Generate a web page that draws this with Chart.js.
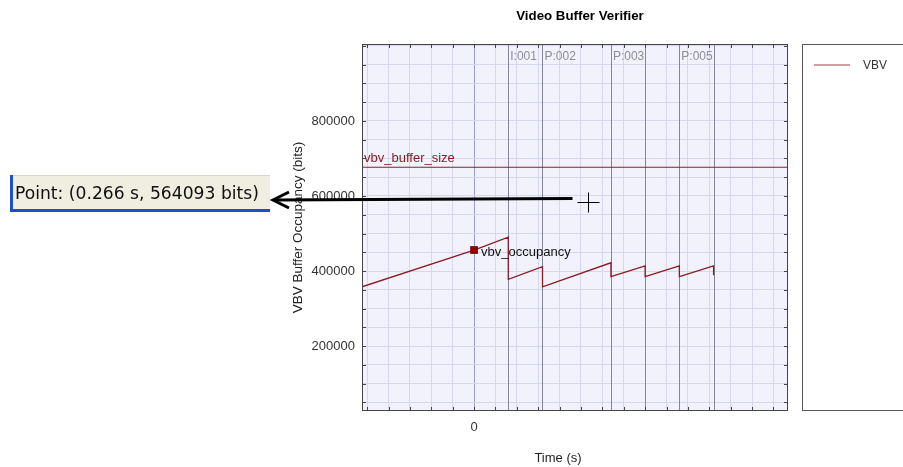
<!DOCTYPE html>
<html><head><meta charset="utf-8">
<script src="https://cdn.jsdelivr.net/npm/chart.js@4/dist/chart.umd.min.js"></script>
<style>html,body{margin:0;padding:0;background:#fff;overflow:hidden}canvas{display:block}</style>
</head><body>
<canvas id="c" width="903" height="467"></canvas>
<script>
// ---- data ----
const chartTitle = 'Video Buffer Verifier';
const xAxisTitle = 'Time (s)';
const yAxisTitle = 'VBV Buffer Occupancy (bits)';
const seriesName = 'VBV';
const xRange = [-0.131, 0.367];
const yRange = [27000, 1005000];
const xTickLabels = [0];
const yTickLabels = [200000, 400000, 600000, 800000];
const xGridStep = 0.025;
const yGridStep = 50000;
const occTimes = [-0.131, 0, 0.04, 0.04, 0.08, 0.08, 0.16, 0.16, 0.20, 0.20, 0.24, 0.24, 0.28, 0.28];
const occBits  = [358000, 456000, 490000, 378000, 411500, 358000, 422000, 385000, 414000, 385000, 414000, 385000, 414000, 389000];
const bufferSizeBits = 676500;
const bufferLabel = 'vbv_buffer_size';
const occLabel = 'vbv_occupancy';
const markerTime = 0;
const frameTimes = [0.04, 0.08, 0.16, 0.20, 0.24, 0.28];
const frameLabels = ['I:001', 'P:002', 'P:003', '', 'P:005', ''];
const cursorTime = 0.133;
const cursorBits = 584000;
const pointReadout = 'Point: (0.266 s, 564093 bits)';

// ---- styles ----
const RED = '#8b1c24';
const FONT = '"Liberation Sans", Arial, sans-serif';
Chart.defaults.font.family = FONT;
Chart.defaults.font.size = 13;
Chart.defaults.color = '#333';

const occData = occTimes.map((t, i) => ({x: t, y: occBits[i]}));
const markerIndex = occTimes.indexOf(markerTime);

function gridTicks(lo, hi, step) {
  const out = [];
  for (let k = Math.ceil(lo / step - 1e-9); k * step <= hi + 1e-9; k++) {
    out.push({value: Math.round(k * step * 1e6) / 1e6});
  }
  return out;
}
const near = (a, b) => Math.abs(a - b) < 1e-6 * Math.max(1, Math.abs(b));

const deco = {
  id: 'deco',
  beforeDraw(chart) {
    const {ctx, chartArea: a} = chart;
    ctx.save();
    ctx.fillStyle = '#fff';
    ctx.fillRect(0, 0, chart.width, chart.height);
    ctx.fillStyle = '#f2f2fc';
    ctx.fillRect(a.left, a.top, a.right - a.left, a.bottom - a.top);
    ctx.restore();
  },
  beforeDatasetsDraw(chart) {
    const {ctx, chartArea: a, scales: {x}} = chart;
    ctx.save();
    ctx.strokeStyle = '#85859a';
    ctx.lineWidth = 1;
    frameTimes.forEach(t => {
      const px = Math.round(x.getPixelForValue(t)) + 0.5;
      ctx.beginPath(); ctx.moveTo(px, a.top); ctx.lineTo(px, a.bottom); ctx.stroke();
    });
    ctx.fillStyle = '#8c8c9e';
    ctx.font = '12px ' + FONT;
    ctx.textBaseline = 'middle';
    frameLabels.forEach((l, i) => {
      if (!l) return;
      ctx.fillText(l, x.getPixelForValue(frameTimes[i]) + 2, a.top + 13);
    });
    ctx.restore();
  },
  afterDraw(chart) {
    const {ctx, chartArea: a, scales: {x, y}} = chart;
    ctx.save();
    // border
    ctx.strokeStyle = '#444';
    ctx.lineWidth = 1;
    ctx.strokeRect(Math.round(a.left) + 0.5, Math.round(a.top) + 0.5, Math.round(a.right - a.left) - 1, Math.round(a.bottom - a.top) - 1);
    // inner tick marks
    ctx.beginPath();
    y.ticks.forEach(t => {
      const py = Math.round(y.getPixelForValue(t.value)) + 0.5;
      ctx.moveTo(a.left, py); ctx.lineTo(a.left + 4, py);
      ctx.moveTo(a.right - 4, py); ctx.lineTo(a.right, py);
    });
    x.ticks.forEach(t => {
      const px = Math.round(x.getPixelForValue(t.value)) + 0.5;
      ctx.moveTo(px, a.top); ctx.lineTo(px, a.top + 4);
      ctx.moveTo(px, a.bottom - 4); ctx.lineTo(px, a.bottom);
    });
    ctx.stroke();
    // annotation labels
    ctx.font = '13px ' + FONT;
    ctx.textBaseline = 'middle';
    ctx.fillStyle = RED;
    ctx.fillText(bufferLabel, x.getPixelForValue(xRange[0]) + 2, y.getPixelForValue(bufferSizeBits) - 9);
    ctx.fillStyle = '#111';
    ctx.fillText(occLabel, x.getPixelForValue(markerTime) + 7, y.getPixelForValue(occBits[markerIndex]) + 2);
    // chart title
    ctx.font = 'bold 13.3px ' + FONT;
    ctx.textAlign = 'center';
    ctx.fillStyle = '#000';
    ctx.fillText(chartTitle, 580, 16);
    // x axis title
    ctx.font = '13px ' + FONT;
    ctx.fillStyle = '#222';
    ctx.fillText(xAxisTitle, 558, 458);
    ctx.textAlign = 'left';
    // legend box
    const lx = a.right + 14;
    ctx.fillStyle = '#fff';
    ctx.fillRect(lx, a.top, chart.width - lx + 5, a.bottom - a.top);
    ctx.strokeStyle = '#555';
    ctx.strokeRect(Math.round(lx) + 0.5, Math.round(a.top) + 0.5, chart.width - lx + 5, Math.round(a.bottom - a.top) - 1);
    ctx.strokeStyle = '#9a3c44';
    ctx.beginPath(); ctx.moveTo(lx + 12, a.top + 21); ctx.lineTo(lx + 48, a.top + 21); ctx.stroke();
    ctx.fillStyle = '#333';
    ctx.font = '12px ' + FONT;
    ctx.fillText(seriesName, lx + 61, a.top + 22);
    // cursor cross
    const cx = Math.round(x.getPixelForValue(cursorTime)) + 0.5;
    const cy = Math.round(y.getPixelForValue(cursorBits)) + 0.5;
    ctx.strokeStyle = '#000';
    ctx.lineWidth = 1;
    ctx.beginPath();
    ctx.moveTo(cx - 11, cy); ctx.lineTo(cx + 11, cy);
    ctx.moveTo(cx, cy - 10); ctx.lineTo(cx, cy + 10);
    ctx.stroke();
    // readout box
    const bx = 10, by = 175, bw = 260, bh = 37;
    ctx.fillStyle = '#efeee0';
    ctx.fillRect(bx, by, bw, bh);
    ctx.fillStyle = '#d8d6c4';
    ctx.fillRect(bx, by, bw, 1);
    ctx.fillStyle = '#1f4fc4';
    ctx.fillRect(bx, by, 3, bh);
    ctx.fillRect(bx, by + bh - 3, bw, 3);
    ctx.fillStyle = '#111';
    let fs = 17;
    ctx.font = fs + 'px "DejaVu Sans", sans-serif';
    const w = ctx.measureText(pointReadout).width;
    fs = fs * 244 / w;
    ctx.font = fs.toFixed(2) + 'px "DejaVu Sans", sans-serif';
    ctx.textBaseline = 'alphabetic';
    ctx.fillText(pointReadout, bx + 5, by + 24);
    // arrow
    const tipX = bx + bw + 2, tipY = by + 25;
    ctx.strokeStyle = '#000';
    ctx.lineWidth = 3;
    ctx.beginPath();
    ctx.moveTo(cx - 16, cy - 4);
    ctx.lineTo(tipX + 2, tipY);
    ctx.stroke();
    ctx.beginPath();
    ctx.moveTo(tipX + 17, tipY - 8);
    ctx.lineTo(tipX + 1, tipY);
    ctx.lineTo(tipX + 17, tipY + 8);
    ctx.stroke();
    ctx.restore();
  }
};

new Chart(document.getElementById('c'), {
  type: 'scatter',
  data: {
    datasets: [
      {
        label: bufferLabel,
        data: [{x: xRange[0], y: bufferSizeBits}, {x: xRange[1], y: bufferSizeBits}],
        showLine: true,
        borderColor: RED,
        borderWidth: 1.2,
        pointRadius: 0,
        clip: 0
      },
      {
        label: seriesName,
        data: occData,
        showLine: true,
        borderColor: RED,
        borderWidth: 1.3,
        backgroundColor: '#8b0000',
        pointStyle: 'rect',
        pointRadius: occData.map((_, i) => i === markerIndex ? 5.5 : 0),
        pointBorderWidth: 0,
        clip: 0
      }
    ]
  },
  options: {
    responsive: false,
    devicePixelRatio: 1,
    animation: false,
    events: [],
    layout: {padding: {left: 290, right: 115, top: 44, bottom: 0}},
    plugins: {
      legend: {display: false},
      title: {display: false},
      tooltip: {enabled: false}
    },
    scales: {
      x: {
        type: 'linear',
        min: xRange[0],
        max: xRange[1],
        afterBuildTicks(s) { s.ticks = gridTicks(xRange[0], xRange[1], xGridStep); },
        afterFit(s) { s.height = 56; },
        grid: {
          color: ctx => (ctx.tick && Math.abs(ctx.tick.value) < 1e-9) ? '#9a9ad6' : '#d6d6ef',
          drawTicks: false,
          lineWidth: 1
        },
        border: {display: false},
        ticks: {
          autoSkip: false,
          maxRotation: 0,
          padding: 9,
          color: '#333',
          callback: v => {
            const hit = xTickLabels.find(t => near(v, t));
            return hit === undefined ? '' : String(hit);
          }
        },
        title: {display: false, text: xAxisTitle}
      },
      y: {
        type: 'linear',
        min: yRange[0],
        max: yRange[1],
        afterBuildTicks(s) { s.ticks = gridTicks(yRange[0], yRange[1], yGridStep); },
        afterFit(s) { s.width = 72; },
        grid: {color: '#d6d6ef', drawTicks: false, lineWidth: 1},
        border: {display: false},
        ticks: {
          autoSkip: false,
          padding: 7,
          color: '#333',
          callback: v => {
            const hit = yTickLabels.find(t => near(v, t));
            return hit === undefined ? '' : String(hit);
          }
        },
        title: {display: true, text: yAxisTitle, color: '#222', font: {size: 13.5}, padding: {top: 0, bottom: 0}}
      }
    }
  },
  plugins: [deco]
});
</script>
</body></html>
